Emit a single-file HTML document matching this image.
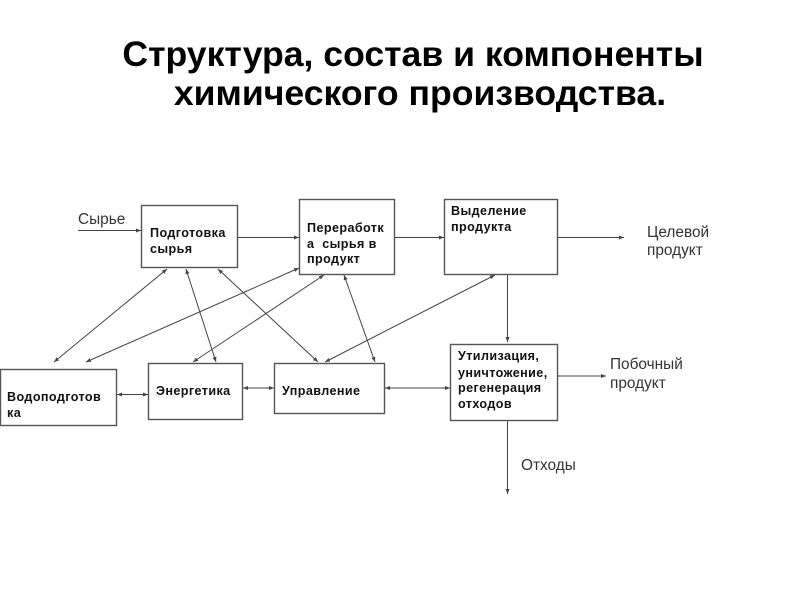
<!DOCTYPE html>
<html><head><meta charset="utf-8"><style>
html,body{margin:0;padding:0;background:#fff}
svg{display:block}
text{font-family:"Liberation Sans",sans-serif}
.t{font-size:35.6px;font-weight:bold;fill:#000;text-anchor:middle}
.b{font-size:12.6px;font-weight:bold;fill:#111;letter-spacing:.4px}
.l{font-size:15.4px;fill:#333}
.r{fill:#fff;stroke:#555;stroke-width:1.4}
.a{stroke:#444;stroke-width:1;fill:none;marker-end:url(#m)}
.d{stroke:#444;stroke-width:1;fill:none;marker-end:url(#m);marker-start:url(#s)}
</style></head><body>
<svg width="800" height="600" viewBox="0 0 800 600" xmlns="http://www.w3.org/2000/svg">
<defs>
<marker id="m" markerWidth="6" markerHeight="6" refX="5" refY="2.5" orient="auto" markerUnits="userSpaceOnUse"><path d="M0,0.5L5,2.5L0,4.5z" fill="#444"/></marker>
<marker id="s" markerWidth="6" markerHeight="6" refX="0" refY="2.5" orient="auto" markerUnits="userSpaceOnUse"><path d="M5,0.5L0,2.5L5,4.5z" fill="#444"/></marker>
</defs>
<text class="t" x="413" y="66">Структура, состав и компоненты</text>
<text class="t" x="420" y="105">химического производства.</text>

<rect class="r" x="141.5" y="205.5" width="96" height="62"/>
<rect class="r" x="299.5" y="199.5" width="95" height="75"/>
<rect class="r" x="444.5" y="199.5" width="113" height="75"/>
<rect class="r" x="0.5" y="369.5" width="116" height="56"/>
<rect class="r" x="148.5" y="363.5" width="94" height="56"/>
<rect class="r" x="274.5" y="363.5" width="110" height="50"/>
<rect class="r" x="450.5" y="344.5" width="107" height="76"/>

<line class="a" x1="78" y1="230.5" x2="141" y2="230.5"/>
<line class="a" x1="238" y1="237.5" x2="299" y2="237.5"/>
<line class="a" x1="395" y1="237.5" x2="444" y2="237.5"/>
<line class="a" x1="558" y1="237.5" x2="624" y2="237.5"/>
<line class="a" x1="507.5" y1="275" x2="507.5" y2="342"/>
<line class="a" x1="557" y1="376" x2="606" y2="376"/>
<line class="a" x1="507.5" y1="421" x2="507.5" y2="494"/>

<line class="d" x1="167" y1="269" x2="54" y2="362"/>
<line class="d" x1="186" y1="269" x2="216" y2="362"/>
<line class="d" x1="218" y1="269" x2="318" y2="362"/>
<line class="d" x1="299" y1="268" x2="86" y2="362"/>
<line class="d" x1="324" y1="275" x2="193" y2="362"/>
<line class="d" x1="344" y1="275" x2="375" y2="362"/>
<line class="d" x1="495" y1="275" x2="325" y2="362"/>
<line class="d" x1="117" y1="394.5" x2="148" y2="394.5"/>
<line class="d" x1="243" y1="388" x2="274" y2="388"/>
<line class="d" x1="385" y1="388" x2="450" y2="388"/>

<text class="l" x="78" y="224">Сырье</text>
<text class="l" x="647" y="237">Целевой</text>
<text class="l" x="647" y="255">продукт</text>
<text class="l" x="610" y="369">Побочный</text>
<text class="l" x="610" y="388">продукт</text>
<text class="l" x="521" y="470">Отходы</text>

<text class="b" x="150" y="237">Подготовка</text>
<text class="b" x="150" y="253">сырья</text>
<text class="b" x="307" y="232">Переработк</text>
<text class="b" x="307" y="248" xml:space="preserve">а  сырья в</text>
<text class="b" x="307" y="263">продукт</text>
<text class="b" x="451" y="215">Выделение</text>
<text class="b" x="451" y="231">продукта</text>
<text class="b" x="7" y="401">Водоподготов</text>
<text class="b" x="7" y="417">ка</text>
<text class="b" x="156" y="395">Энергетика</text>
<text class="b" x="282" y="395">Управление</text>
<text class="b" x="458" y="360">Утилизация,</text>
<text class="b" x="458" y="377">уничтожение,</text>
<text class="b" x="458" y="392">регенерация</text>
<text class="b" x="458" y="408">отходов</text>
</svg>
</body></html>
